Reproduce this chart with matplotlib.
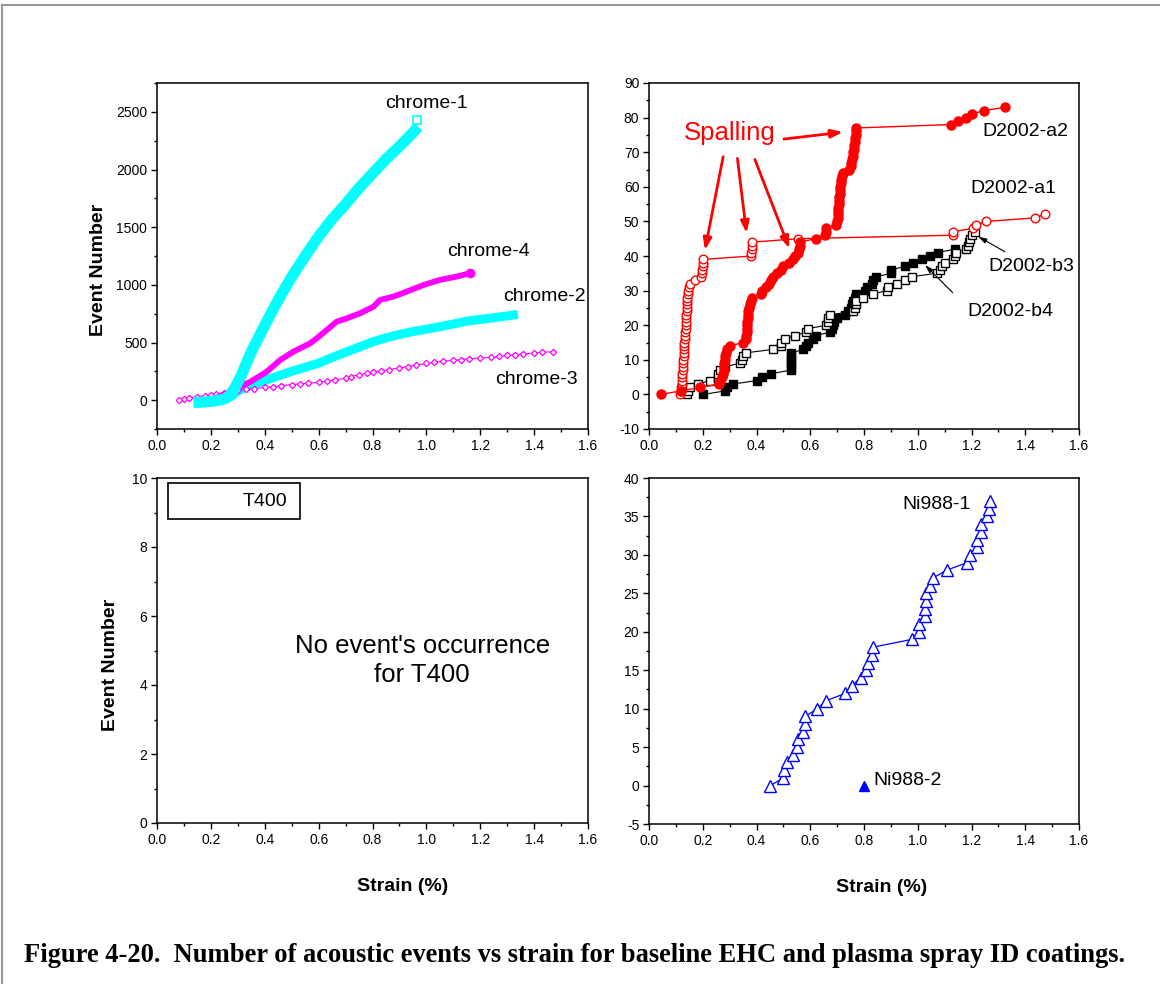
import matplotlib
matplotlib.use("Agg")
import matplotlib.pyplot as plt
from matplotlib.lines import Line2D
from matplotlib.patches import Rectangle
from matplotlib.ticker import MultipleLocator

plt.rcParams['font.family'] = ['Liberation Sans', 'DejaVu Sans']
plt.rcParams['axes.unicode_minus'] = False

# ---------------- data ----------------
# EHC chrome specimens (strain %, cumulative events)
chrome1_strain = [0.135, 0.18, 0.22, 0.25, 0.27, 0.29, 0.31, 0.35, 0.40, 0.45, 0.50, 0.55,
                  0.60, 0.65, 0.70, 0.75, 0.80, 0.85, 0.90, 0.95, 0.97]
chrome1_events = [-20, -15, -5, 10, 40, 110, 200, 420, 650, 870, 1070, 1250,
                  1420, 1570, 1700, 1840, 1965, 2090, 2200, 2320, 2370]
chrome1_last = (0.965, 2430)

chrome2_strain = [0.15, 0.20, 0.25, 0.28, 0.30, 0.35, 0.40, 0.45, 0.50, 0.55, 0.60, 0.65,
                  0.70, 0.75, 0.80, 0.85, 0.90, 0.95, 1.00, 1.05, 1.10, 1.15, 1.20, 1.25,
                  1.30, 1.34]
chrome2_events = [-25, -10, 10, 40, 80, 130, 170, 210, 250, 285, 320, 370,
                  415, 460, 505, 540, 570, 595, 615, 637, 660, 685, 700, 715,
                  730, 745]

chrome3_strain = [0.08, 0.10, 0.12, 0.15, 0.18, 0.20, 0.22, 0.25, 0.28, 0.30, 0.33, 0.36,
                  0.40, 0.43, 0.46, 0.50, 0.53, 0.56, 0.60, 0.63, 0.66, 0.70, 0.72, 0.75,
                  0.78, 0.80, 0.83, 0.86, 0.90, 0.93, 0.96, 1.00, 1.03, 1.06, 1.10, 1.13,
                  1.16, 1.20, 1.24, 1.27, 1.30, 1.33, 1.36, 1.40, 1.43, 1.47]
chrome3_events = [0, 10, 20, 30, 40, 45, 55, 65, 78, 85, 95, 100,
                  110, 116, 125, 135, 140, 147, 155, 165, 175, 190, 205, 220,
                  235, 245, 255, 265, 280, 290, 305, 318, 328, 337, 345, 352,
                  360, 365, 372, 380, 388, 395, 400, 408, 415, 420]

chrome4_strain = [0.22, 0.27, 0.30, 0.346, 0.407, 0.457, 0.506, 0.568, 0.593, 0.63, 0.667,
                  0.705, 0.754, 0.804, 0.828, 0.878, 0.928, 0.99, 1.051, 1.113, 1.163]
chrome4_events = [20, 70, 110, 159, 246, 348, 420, 492, 536, 608, 681,
                  710, 753, 811, 869, 898, 942, 999, 1043, 1072, 1101]

# Plasma spray D2002 specimens: strain at which each successive event occurred
a2_strain = [0.043, 0.118, 0.19, 0.26, 0.265, 0.27, 0.275, 0.278, 0.28, 0.28, 0.282, 0.283,
             0.285, 0.29, 0.30, 0.35, 0.36, 0.362, 0.363, 0.364, 0.365, 0.366, 0.367, 0.368,
             0.37, 0.372, 0.375, 0.38, 0.385, 0.415, 0.42, 0.435, 0.445, 0.455, 0.462, 0.475,
             0.49, 0.50, 0.52, 0.535, 0.545, 0.555, 0.558, 0.56, 0.562, 0.62, 0.655, 0.658,
             0.66, 0.695, 0.70, 0.702, 0.703, 0.704, 0.705, 0.706, 0.707, 0.708, 0.709, 0.71,
             0.712, 0.714, 0.716, 0.718, 0.72, 0.745, 0.75, 0.752, 0.755, 0.758, 0.76, 0.762,
             0.764, 0.766, 0.768, 0.77, 0.77, 0.772, 1.125, 1.15, 1.18, 1.20, 1.245, 1.325]
a2_events = list(range(len(a2_strain)))

a1_strain = [0.115, 0.118, 0.12, 0.121, 0.122, 0.123, 0.124, 0.125, 0.126, 0.127, 0.128,
             0.129, 0.13, 0.13, 0.131, 0.132, 0.133, 0.134, 0.135, 0.136, 0.136, 0.137,
             0.138, 0.139, 0.14, 0.14, 0.141, 0.142, 0.143, 0.144, 0.145, 0.148, 0.153,
             0.171, 0.195, 0.198, 0.199, 0.20, 0.20, 0.201, 0.38, 0.381, 0.382, 0.382,
             0.383, 0.555, 1.13, 1.131, 1.206, 1.218, 1.255, 1.435, 1.472]
a1_events = list(range(len(a1_strain)))

b3_strain = [0.14, 0.146, 0.152, 0.183, 0.227, 0.255, 0.258, 0.264, 0.283, 0.338, 0.345,
             0.35, 0.36, 0.46, 0.49, 0.493, 0.506, 0.543, 0.586, 0.592, 0.66, 0.665, 0.667,
             0.673, 0.76, 0.766, 0.77, 0.772, 0.797, 0.834, 0.884, 0.89, 0.921, 0.952,
             0.977, 1.07, 1.082, 1.09, 1.10, 1.131, 1.14, 1.144, 1.181, 1.187, 1.19, 1.193,
             1.20, 1.212]
b3_events = list(range(len(b3_strain)))

b4_strain = [0.202, 0.283, 0.289, 0.314, 0.40, 0.419, 0.454, 0.528, 0.528, 0.529, 0.529,
             0.53, 0.53, 0.574, 0.585, 0.592, 0.61, 0.623, 0.673, 0.68, 0.685, 0.69, 0.698,
             0.729, 0.74, 0.75, 0.754, 0.76, 0.766, 0.77, 0.803, 0.81, 0.828, 0.835, 0.846,
             0.90, 0.902, 0.952, 0.983, 1.014, 1.045, 1.076, 1.138]
b4_events = list(range(len(b4_strain)))

# Ni988 specimens
ni1_strain = [0.452, 0.50, 0.502, 0.514, 0.534, 0.549, 0.555, 0.574, 0.58, 0.582, 0.626,
              0.657, 0.731, 0.754, 0.787, 0.809, 0.815, 0.83, 0.834, 0.977, 1.005, 1.005,
              1.026, 1.026, 1.03, 1.03, 1.047, 1.057, 1.107, 1.184, 1.196, 1.221, 1.219,
              1.235, 1.234, 1.256, 1.264, 1.27]
ni1_events = list(range(len(ni1_strain)))
ni2_strain = [0.80]
ni2_events = [0]

# ---------------- figure ----------------
W, H = 1160, 984
fig = plt.figure(figsize=(W / 100, H / 100), dpi=100)

def px_axes(l, t, r, b):
    return fig.add_axes([l / W, 1 - b / H, (r - l) / W, (b - t) / H])

ax_tl = px_axes(157, 83, 588, 429)
ax_tr = px_axes(649, 83, 1079, 429)
ax_bl = px_axes(157, 478, 588, 823)
ax_br = px_axes(649, 478, 1079, 824)

def style(ax, ylim, ymaj, ymin):
    ax.set_xlim(0, 1.6)
    ax.set_ylim(*ylim)
    ax.xaxis.set_major_locator(MultipleLocator(0.2))
    ax.xaxis.set_minor_locator(MultipleLocator(0.1))
    ax.yaxis.set_major_locator(MultipleLocator(ymaj))
    ax.yaxis.set_minor_locator(MultipleLocator(ymin))
    ax.xaxis.set_major_formatter(plt.FuncFormatter(lambda v, p: f"{v:.1f}"))
    ax.tick_params(which='both', direction='out', top=False, right=False,
                   labelsize=10, width=1.0, pad=2.5)
    ax.tick_params(which='major', length=4.5)
    ax.tick_params(which='minor', length=2.5)
    for s in ax.spines.values():
        s.set_linewidth(1.1)

style(ax_tl, (-250, 2750), 500, 250)
style(ax_tr, (-10, 90), 10, 5)
style(ax_bl, (0, 10), 2, 1)
style(ax_br, (-5, 40), 5, 2.5)

# ---- top-left: chrome ----
cyan = '#00FFFF'
mag = '#FF00FF'
ax_tl.plot(chrome2_strain, chrome2_events, color=cyan, lw=6.5, solid_capstyle='butt',
           solid_joinstyle='round', zorder=2)
ax_tl.plot(chrome3_strain, chrome3_events, color=mag, lw=0.8, marker='D', ms=3.2,
           mfc='white', mec=mag, mew=0.9, zorder=3)
ax_tl.plot(chrome4_strain, chrome4_events, color=mag, lw=4.2, solid_capstyle='round',
           solid_joinstyle='round', zorder=4)
ax_tl.plot(chrome4_strain[-1:], chrome4_events[-1:], 'o', color=mag, ms=6, zorder=4)
ax_tl.plot(chrome1_strain, chrome1_events, color=cyan, lw=8, solid_capstyle='butt',
           solid_joinstyle='round', zorder=5)
ax_tl.plot([chrome1_last[0]], [chrome1_last[1]], 's', ms=5.5, mfc='white', mec=cyan,
           mew=1.2, zorder=6)

lab_kw = dict(fontsize=14, ha='center', va='center')
ax_tl.text(1.002, 2569, 'chrome-1', **lab_kw)
ax_tl.text(1.229, 1285, 'chrome-4', **lab_kw)
ax_tl.text(1.437, 903, 'chrome-2', **lab_kw)
ax_tl.text(1.41, 182, 'chrome-3', **lab_kw)

# ---- top-right: D2002 ----
red = '#FF0000'
ax_tr.plot(b3_strain, b3_events, color='black', lw=0.8, marker='s', ms=6,
           mfc='white', mec='black', mew=1.0, zorder=3)
ax_tr.plot(b4_strain, b4_events, color='black', lw=0.8, marker='s', ms=6,
           mfc='black', mec='black', zorder=2)
ax_tr.plot(a1_strain, a1_events, color=red, lw=1.0, marker='o', ms=6.2,
           mfc='white', mec=red, mew=1.0, zorder=4)
ax_tr.plot(a2_strain, a2_events, color=red, lw=1.0, marker='o', ms=6.5,
           mfc=red, mec=red, zorder=5)

ax_tr.text(0.301, 75.5, 'Spalling', color=red, fontsize=18.5, ha='center', va='center')
arrow_red = dict(arrowstyle='-|>,head_length=0.7,head_width=0.25', color=red, lw=2.0,
                 shrinkA=0, shrinkB=0)
for (x0, y0), (x1, y1) in [((0.502, 73.8), (0.722, 75.8)),
                           ((0.276, 68.7), (0.208, 41.7)),
                           ((0.329, 68.2), (0.363, 46.6)),
                           ((0.394, 67.9), (0.522, 42.2))]:
    ax_tr.annotate('', xy=(x1, y1), xytext=(x0, y0), arrowprops=arrow_red, zorder=7)

arrow_blk = dict(arrowstyle='-|>,head_length=0.5,head_width=0.15', color='black', lw=0.8,
                 shrinkA=0, shrinkB=0)
ax_tr.annotate('', xy=(1.225, 45.6), xytext=(1.325, 41.2), arrowprops=arrow_blk, zorder=7)
ax_tr.annotate('', xy=(1.027, 37.4), xytext=(1.13, 29.4), arrowprops=arrow_blk, zorder=7)

ax_tr.text(1.399, 76.1, 'D2002-a2', **lab_kw)
ax_tr.text(1.356, 59.6, 'D2002-a1', **lab_kw)
ax_tr.text(1.424, 36.9, 'D2002-b3', **lab_kw)
ax_tr.text(1.343, 23.9, 'D2002-b4', **lab_kw)

# ---- bottom-left: T400 ----
ax_bl.add_patch(Rectangle((0.0255, 0.881), 0.3065, 0.1045, transform=ax_bl.transAxes,
                          fill=False, ec='black', lw=1.2))
ax_bl.text(0.25, 0.933, 'T400', transform=ax_bl.transAxes, fontsize=14,
           ha='center', va='center')
ax_bl.text(0.615, 0.47, "No event's occurrence\nfor T400", transform=ax_bl.transAxes,
           fontsize=18.5, ha='center', va='center', linespacing=1.25)

# ---- bottom-right: Ni988 ----
blue = '#0000FF'
ax_br.plot(ni1_strain, ni1_events, color=blue, lw=0.9, marker='^', ms=8,
           mfc='white', mec=blue, mew=1.0)
ax_br.plot(ni2_strain, ni2_events, '^', color=blue, ms=6.5, lw=0)
ax_br.text(1.07, 36.6, 'Ni988-1', **lab_kw)
ax_br.text(0.835, 0.7, 'Ni988-2', fontsize=14, ha='left', va='center')

# ---- axis titles ----
for ax, xc, yc in [(ax_tl, -50 / 431, 0.46), (ax_bl, -38 / 431, 0.458)]:
    ax.set_ylabel('Event Number', fontsize=14, fontweight='bold')
    ax.yaxis.set_label_coords(xc, yc)
ax_bl.set_xlabel('Strain (%)', fontsize=14, fontweight='bold')
ax_bl.xaxis.set_label_coords(0.571, -0.16)
ax_br.set_xlabel('Strain (%)', fontsize=14, fontweight='bold')
ax_br.xaxis.set_label_coords(0.542, -0.16)

# ---- caption ----
fig.text(575 / W, 1 - 955 / H,
         'Figure 4-20.  Number of acoustic events vs strain for baseline EHC and plasma spray ID coatings.',
         family=['Liberation Serif'], fontweight='bold', fontsize=19.1,
         ha='center', va='center')

# page frame
fig.add_artist(Line2D([2 / W, 2 / W], [0, 1 - 5 / H], transform=fig.transFigure,
                      color='#999999', lw=1.5))
fig.add_artist(Line2D([2 / W, 1], [1 - 5 / H, 1 - 5 / H], transform=fig.transFigure,
                      color='#999999', lw=1.5))

fig.savefig('out.png', dpi=100)
